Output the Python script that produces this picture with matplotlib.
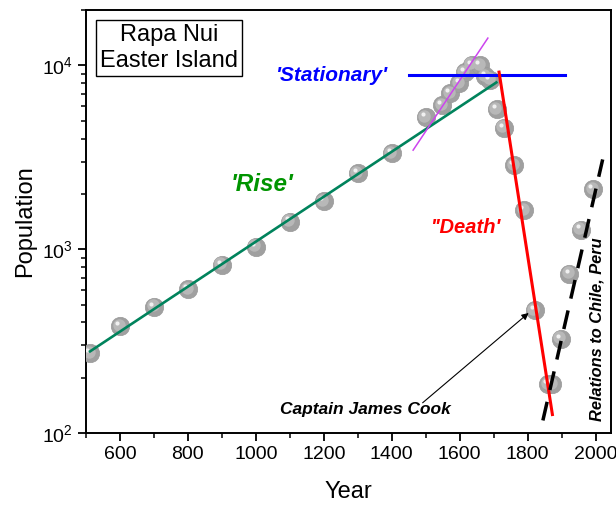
import matplotlib
matplotlib.use("Agg")
import matplotlib.pyplot as plt
from matplotlib import transforms
from matplotlib.ticker import LogLocator, MultipleLocator, NullFormatter

plt.rcParams['font.family'] = ['Liberation Sans', 'DejaVu Sans']

# population estimates
years = [512, 600, 700, 800, 900, 1000, 1100, 1200, 1300, 1400, 1500, 1548, 1572,
         1599, 1615, 1635, 1660, 1676, 1689, 1709, 1730, 1760, 1790, 1821, 1860,
         1872, 1897, 1923, 1956, 1993]
population = [272, 382, 486, 605, 822, 1030, 1415, 1830, 2590, 3320, 5220, 6080, 7040,
              8020, 9180, 10080, 10000, 8720, 8360, 5800, 4590, 2860, 1628, 465, 184,
              184, 326, 736, 1280, 2115]

# hand-drawn trend lines
rise_x, rise_y = [512, 1708], [278, 8080]
stat_x, stat_y = [1450, 1910], [8870, 8870]
steep_x, steep_y = [1463, 1683], [3460, 14090]
death_x, death_y = [1716, 1873], [9200, 126]
recov_x, recov_y = [1845, 2021], [117, 3080]

fig = plt.figure(figsize=(6.16, 5.07), dpi=100)
ax = fig.add_axes([0.1396, 0.146, 0.852, 0.834])
ax.set_yscale('log')

# sphere-like markers: grey base, lighter core, small highlight
ax.scatter(years, population, s=175, c='#a0a0a0', edgecolors='#999999', linewidths=0.5, zorder=3)
off1 = transforms.offset_copy(ax.transData, fig=fig, x=-1.0, y=1.0, units='points')
ax.scatter(years, population, s=80, c='#b8b8b8', linewidths=0, zorder=3, transform=off1)
off2 = transforms.offset_copy(ax.transData, fig=fig, x=-2.0, y=2.2, units='points')
ax.scatter(years, population, s=9, c='#f0f0f0', linewidths=0, zorder=3, transform=off2)

ax.plot(rise_x, rise_y, color='#00835c', lw=1.9, zorder=4)
ax.plot(steep_x, steep_y, color='#cc44ee', lw=1.1, zorder=4)
ax.plot(stat_x, stat_y, color='#0000ff', lw=2.2, zorder=4)
ax.plot(death_x, death_y, color='#ff0000', lw=2.2, zorder=4)
ax.plot(recov_x, recov_y, color='black', lw=2.5, dashes=(5.5, 3.5), zorder=4)

ax.text(1224, 8870, "'Stationary'", color='#0000ff', fontsize=15, fontweight='bold',
        fontstyle='italic', ha='center', va='center')
ax.text(1018, 2240, "'Rise'", color='#009400', fontsize=17.5, fontweight='bold',
        fontstyle='italic', ha='center', va='center')
ax.text(1615, 1320, "''Death'", color='#ff0000', fontsize=14.5, fontweight='bold',
        fontstyle='italic', ha='center', va='center')
ax.text(1323, 134, 'Captain James Cook', fontsize=12.5, fontweight='bold',
        fontstyle='italic', ha='center', va='center')
ax.annotate('', xy=(1803, 450), xytext=(1491, 146),
            arrowprops=dict(arrowstyle='-|>', color='black', lw=0.8, mutation_scale=10,
                            shrinkA=0, shrinkB=0))
ax.text(2003, 365, 'Relations to Chile, Peru', fontsize=11.8, fontweight='bold',
        fontstyle='italic', rotation=90, ha='center', va='center')
ax.text(0.159, 0.911, 'Rapa Nui\nEaster Island', transform=ax.transAxes, fontsize=17,
        ha='center', va='center', linespacing=1.25,
        bbox=dict(boxstyle='square,pad=0.17', facecolor='white', edgecolor='black', lw=1))

ax.set_xlim(500, 2045)
ax.set_ylim(100, 20000)
ax.xaxis.set_major_locator(MultipleLocator(200))
ax.xaxis.set_minor_locator(MultipleLocator(100))
ax.yaxis.set_major_locator(LogLocator(base=10))
ax.yaxis.set_minor_locator(LogLocator(base=10, subs=range(2, 10)))
ax.yaxis.set_minor_formatter(NullFormatter())
ax.tick_params(which='major', direction='out', length=6, width=1.3, labelsize=14)
ax.tick_params(which='minor', direction='out', length=3.5, width=1.1)
for sp in ax.spines.values():
    sp.set_linewidth(1.4)

ax.set_xlabel('Year', fontsize=17, labelpad=13)
ax.set_ylabel('Population', fontsize=17, labelpad=4)

fig.savefig('out.png', dpi=100)
